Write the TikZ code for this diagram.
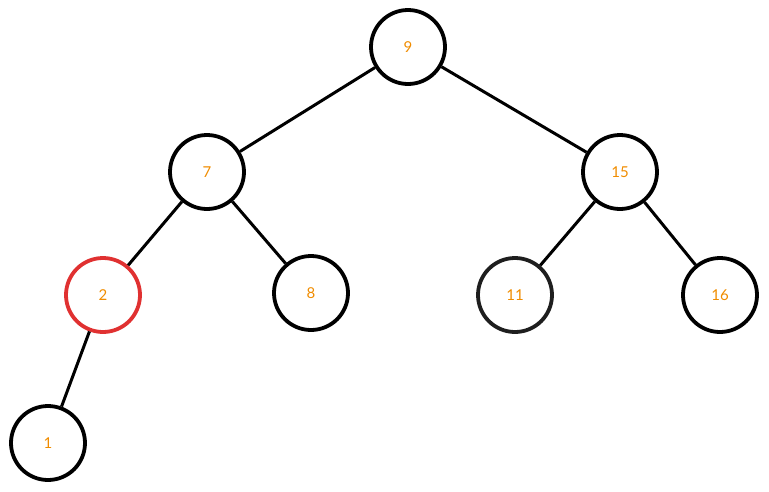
\documentclass[tikz,border=0pt]{standalone}
\usepackage{fontspec}
\setmainfont{Lato}
\usetikzlibrary{positioning}
\definecolor{numorange}{HTML}{F08C00}
\definecolor{markred}{HTML}{E03131}
\definecolor{darkgrey}{HTML}{1E1E1E}

\begin{document}
\begin{tikzpicture}[x=1pt, y=-1pt, line width=3pt,
  treenode/.style={draw, circle, minimum size=74pt, inner sep=0pt,
                   line width=3.8pt, text=numorange, font=\fontsize{15}{15}\selectfont}]
  \useasboundingbox (0,0) rectangle (769,491);

  \node[treenode] (n9)  at (408,47)  {9};
  \node[treenode] (n7)  at (207,172) {7};
  \node[treenode] (n15) at (620,172) {15};
  \node[treenode, draw=markred] (n2) at (103,295) {2};
  \node[treenode] (n8)  at (311,293) {8};
  \node[treenode, draw=darkgrey] (n11) at (515,295) {11};
  \node[treenode] (n16) at (720,295) {16};
  \node[treenode] (n1)  at (48,443)  {1};

  \draw (n9) -- (n7);
  \draw (n9) -- (n15);
  \draw (n7) -- (n2);
  \draw (n7) -- (n8);
  \draw (n15) -- (n11);
  \draw (n15) -- (n16);
  \draw (n2) -- (n1);
\end{tikzpicture}
\end{document}
